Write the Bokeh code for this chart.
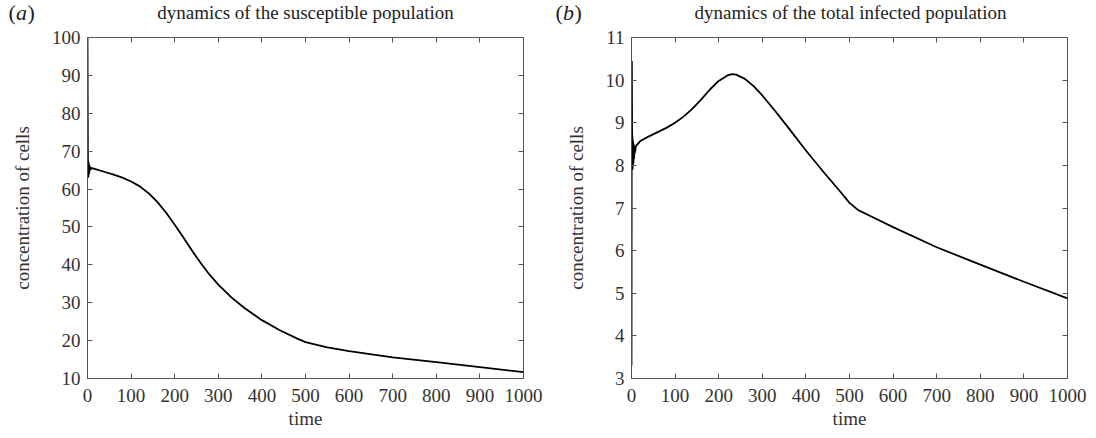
from bokeh.plotting import figure
from bokeh.layouts import row, column
from bokeh.models import Range1d, LinearAxis, FixedTicker, CustomJSTickFormatter, ColumnDataSource
from bokeh.core.properties import value
from bokeh.embed import file_html
from bokeh.resources import INLINE

# ---- data ----
t_s = [0, 0.4, 0.8, 1.2, 1.6, 2.0, 2.5, 3.0, 3.5, 4.0, 4.5, 5.0, 6.0, 7.0, 8.0, 10, 20, 40, 60, 80,
       100, 120, 140, 160, 180, 200, 220, 240, 260, 280, 300, 330, 360, 400, 440, 480, 500,
       550, 600, 700, 800, 900, 1000]
S = [100, 85, 70, 63, 67.5, 63.2, 67, 63.8, 66.5, 64.2, 66.2, 64.8, 65.9, 65.1, 65.6, 65.5, 65.2, 64.5, 63.8, 63.0,
     62.0, 60.7, 58.9, 56.6, 53.8, 50.6, 47.2, 43.7, 40.4, 37.4, 34.8, 31.4, 28.6, 25.4, 22.8, 20.6, 19.6,
     18.2, 17.2, 15.6, 14.3, 13.0, 11.7]

t_i = [0, 0.3, 0.8, 1.2, 1.6, 2.0, 2.5, 3.0, 3.5, 4.0, 4.5, 5.0, 6.0, 7.0, 8.0, 10, 20, 40, 60, 80,
       100, 120, 140, 160, 180, 200, 220, 230, 240, 260, 280, 300, 330, 360, 400, 440, 480, 500,
       520, 550, 600, 700, 800, 900, 1000]
I = [3.3, 7.0, 10.45, 9.2, 7.95, 8.7, 7.9, 8.6, 8.0, 8.55, 8.05, 8.5, 8.15, 8.45, 8.3, 8.45, 8.57, 8.68, 8.78, 8.88,
     9.0, 9.15, 9.33, 9.55, 9.78, 9.98, 10.11, 10.14, 10.13, 10.03, 9.86, 9.64, 9.27, 8.88, 8.35, 7.85, 7.37, 7.12,
     6.95, 6.8, 6.55, 6.08, 5.67, 5.27, 4.88]

x_ticks = [0, 100, 200, 300, 400, 500, 600, 700, 800, 900, 1000]
s_ticks = [10, 20, 30, 40, 50, 60, 70, 80, 90, 100]
i_ticks = [3, 4, 5, 6, 7, 8, 9, 10, 11]

titles = ["dynamics of the susceptible population", "dynamics of the total infected population"]
letters = ["a", "b"]

FONT = "Liberation Serif"
FS = "19px"
AX = "#555555"
TXT = "#333333"
HEAD = 25


def make_panel(t, y, yr, yticks, border_left, border_right):
    p = figure(width=548, height=438 - HEAD, output_backend="svg", toolbar_location=None,
               x_range=Range1d(0, 1000), y_range=Range1d(*yr),
               min_border_left=border_left, min_border_right=border_right,
               min_border_top=12, min_border_bottom=60)
    p.grid.visible = False
    p.outline_line_color = AX

    for ax in (p.xaxis[0], p.yaxis[0]):
        ax.axis_line_color = AX
        ax.major_tick_line_color = AX
        ax.major_tick_in = 5
        ax.major_tick_out = 0
        ax.minor_tick_line_color = None
        ax.major_label_text_font = FONT
        ax.major_label_text_font_size = FS
        ax.major_label_text_color = TXT
        ax.axis_label_text_font = FONT
        ax.axis_label_text_font_size = FS
        ax.axis_label_text_font_style = "normal"
        ax.axis_label_text_color = TXT
    p.xaxis[0].ticker = FixedTicker(ticks=x_ticks)
    p.yaxis[0].ticker = FixedTicker(ticks=yticks)
    p.xaxis[0].axis_label = "time"
    p.yaxis[0].axis_label = "concentration of cells"
    p.xaxis[0].major_label_standoff = 10
    p.xaxis[0].axis_label_standoff = 3
    p.yaxis[0].major_label_standoff = 7
    p.yaxis[0].axis_label_standoff = 16

    blank = CustomJSTickFormatter(code="return ''")
    top = LinearAxis(ticker=FixedTicker(ticks=x_ticks), formatter=blank,
                     axis_line_color=None, major_tick_line_color=AX,
                     major_tick_in=5, major_tick_out=0, minor_tick_line_color=None,
                     major_label_standoff=0)
    right = LinearAxis(ticker=FixedTicker(ticks=yticks), formatter=blank,
                       axis_line_color=None, major_tick_line_color=AX,
                       major_tick_in=5, major_tick_out=0, minor_tick_line_color=None,
                       major_label_standoff=0)
    p.add_layout(top, "above")
    p.add_layout(right, "right")

    p.line(t, y, line_color="black", line_width=1.8)
    return p


p1 = make_panel(t_s, S, (10, 100), s_ticks, 87, 25)
p2 = make_panel(t_i, I, (3, 11), i_ticks, 83, 29)

# header strip holding the panel letters and titles (pixel-space ranges)
head = figure(width=1096, height=HEAD, output_backend="svg", toolbar_location=None,
              x_range=Range1d(0, 1096), y_range=Range1d(0, HEAD),
              x_axis_type=None, y_axis_type=None, min_border=0)
head.grid.visible = False
head.outline_line_color = None

letter_src = ColumnDataSource(dict(
    x=[8, 15.5, 27, 555, 562.5, 574],
    y=[13, 13, 13, 13, 13, 13],
    text=["(", letters[0], ")", "(", letters[1], ")"],
    style=["normal", "italic", "normal", "normal", "italic", "normal"],
))
head.text(x="x", y="y", text="text", source=letter_src, text_font=value(FONT),
          text_font_size="22px", text_font_style="style", text_color="#222222",
          text_baseline="middle", text_align="left")

title_src = ColumnDataSource(dict(x=[305, 850], y=[13, 13], text=titles))
head.text(x="x", y="y", text="text", source=title_src, text_font=value(FONT),
          text_font_size=FS, text_color="#222222",
          text_baseline="middle", text_align="center")

layout = column(head, row(p1, p2))
open("out.html", "w").write(file_html(layout, INLINE))
